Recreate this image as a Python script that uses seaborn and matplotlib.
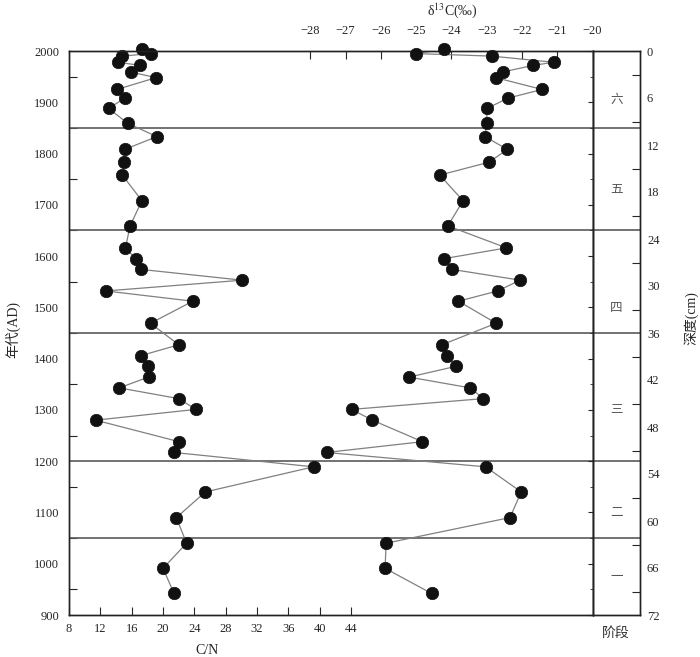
import numpy as np
import pandas as pd
import matplotlib
matplotlib.use("Agg")
import matplotlib.pyplot as plt
from matplotlib.ticker import MultipleLocator
import seaborn as sns

# sample ages (AD), shared by both series
years = [2003, 1995, 1990, 1978, 1972, 1959, 1948, 1925, 1908, 1888,
         1859, 1833, 1808, 1783, 1758, 1708, 1659, 1616, 1595, 1574,
         1553, 1532, 1512, 1469, 1427, 1406, 1385, 1364, 1343, 1322,
         1301, 1280, 1238, 1217, 1189, 1140, 1090, 1040, 991, 942]

cn_ratio = [17.3, 18.4, 14.8, 14.2, 17.1, 15.9, 19.1, 14.1, 15.1, 13.05,
            15.5, 19.2, 15.1, 15.05, 14.8, 17.3, 15.8, 15.2, 16.5, 17.2,
            30.1, 12.7, 23.8, 18.4, 22.0, 17.2, 18.1, 18.15, 14.4, 22.0,
            24.2, 11.4, 22.05, 21.4, 39.2, 25.4, 21.7, 23.0, 20.0, 21.4]

d13c = [-24.21, -25.01, -22.85, -21.10, -21.68, -22.55, -22.74, -21.43, -22.40, -22.99,
        -23.00, -23.05, -22.41, -22.94, -24.33, -23.67, -24.10, -22.44, -24.21, -23.98,
        -22.05, -22.69, -23.80, -22.73, -24.27, -24.13, -23.87, -25.20, -23.47, -23.09,
        -26.83, -26.24, -24.82, -27.54, -23.03, -22.02, -22.34, -25.85, -25.88, -24.56]

stage_bounds = [1850, 1650, 1450, 1200, 1050]
stage_names = ["六", "五", "四", "三", "二", "一"]
stage_label_years = [1905, 1730, 1500, 1300, 1100, 975]

cn_ticks = list(range(8, 45, 4))
d13c_ticks = list(range(-28, -19))
depth_ticks = list(range(0, 73, 6))

df = pd.DataFrame({"year": years, "cn": cn_ratio, "d13c": d13c})

sns.set_style("white")
plt.rcParams["font.family"] = ["Liberation Serif", "Noto Sans CJK SC"]
plt.rcParams["mathtext.fontset"] = "stix"
plt.rcParams["axes.unicode_minus"] = True

W, H = 700, 657
fig = plt.figure(figsize=(7, 6.57), dpi=100)

x0, x1, x2 = 69, 592.5, 640
y_top, y_bot = 51, 615
ax = fig.add_axes([x0 / W, 1 - y_bot / H, (x1 - x0) / W, (y_bot - y_top) / H])
ax_st = fig.add_axes([x1 / W, 1 - y_bot / H, (x2 - x1) / W, (y_bot - y_top) / H], sharey=ax)

line_col = "#808080"
bound_col = "#5a5a5a"
dot_size = 80

# C/N on the bottom axis
sns.lineplot(data=df, x="cn", y="year", sort=False, estimator=None,
             color=line_col, linewidth=0.9, ax=ax)
sns.scatterplot(data=df, x="cn", y="year", color="#111111", edgecolor="#111111",
                s=dot_size, linewidth=0.5, zorder=5, clip_on=False, ax=ax)
ax.set_xlim(8, 74.8)
ax.set_ylim(900, 2000)
ax.set_xticks(cn_ticks)
ax.yaxis.set_major_locator(MultipleLocator(100))
ax.yaxis.set_minor_locator(MultipleLocator(50))
ax.tick_params(axis="x", direction="in", length=6, width=0.8, labelsize=9, pad=6, bottom=True)
ax.tick_params(axis="y", which="major", length=0, labelsize=9, pad=7, left=True)
ax.tick_params(axis="y", which="minor", direction="in", length=6, width=0.8, left=True)
ax.set_xlabel("")
ax.set_ylabel("")

# delta 13C on the top axis
ax_top = ax.twiny()
sns.lineplot(data=df, x="d13c", y="year", sort=False, estimator=None,
             color=line_col, linewidth=0.9, ax=ax_top)
sns.scatterplot(data=df, x="d13c", y="year", color="#111111", edgecolor="#111111",
                s=dot_size, linewidth=0.5, zorder=5, clip_on=False, ax=ax_top)
ax_top.set_xlim(-34.84, -20)
ax_top.set_xticks(d13c_ticks)
ax_top.tick_params(axis="x", direction="in", length=6, width=0.8, labelsize=9, pad=10, top=True)
ax_top.set_xlabel("")
ax_top.set_ylabel("")

for a in (ax, ax_top):
    for sp in a.spines.values():
        sp.set_color("#222222")
        sp.set_linewidth(1.0)

# stage column
ax_st.set_xlim(0, 1)
ax_st.set_xticks([])
ax_st.tick_params(axis="y", left=False, labelleft=False)
for sp in ax_st.spines.values():
    sp.set_color("#222222")
    sp.set_linewidth(1.0)
for yb in stage_bounds:
    ax.axhline(yb, color=bound_col, linewidth=1.2, zorder=1)
    ax_st.axhline(yb, color=bound_col, linewidth=1.2)
for name, yl in zip(stage_names, stage_label_years):
    ax_st.text(0.5, yl, name, ha="center", va="center", fontsize=9,
               color="#555555", family=["Noto Sans CJK SC"])

ax_dep = ax_st.twinx()
ax_dep.set_ylim(72, 0)
ax_dep.set_yticks(depth_ticks)
ax_dep.set_yticks([d + 3 for d in depth_ticks[:-1]], minor=True)
ax_dep.tick_params(axis="y", which="major", length=0, labelsize=9, pad=5, right=True)
ax_dep.tick_params(axis="y", which="minor", direction="in", length=6, width=0.8, right=True)
for sp in ax_dep.spines.values():
    sp.set_color("#222222")
    sp.set_linewidth(1.0)

# axis titles
fig.text(13 / W, 1 - 330 / H, "年代(AD)", rotation=90, ha="center", va="center", fontsize=10)
fig.text(691 / W, 1 - 318 / H, "深度(cm)", rotation=90, ha="center", va="center", fontsize=10)
fig.text(452 / W, 1 - 11 / H, r"δ$^{13}$C(‰)", ha="center", va="center", fontsize=10)
fig.text(207 / W, 1 - 650 / H, "C/N", ha="center", va="center", fontsize=10)
fig.text(616 / W, 1 - 633 / H, "阶段", ha="center", va="center", fontsize=10, color="#333333")

fig.savefig("out.png", dpi=100)
